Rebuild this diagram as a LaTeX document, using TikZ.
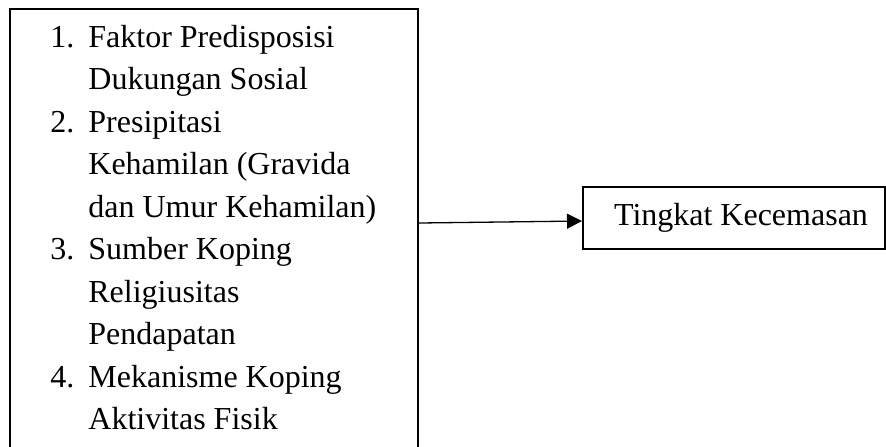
\documentclass[tikz,border=0pt]{standalone}
\usepackage{fontspec}
\setmainfont{Liberation Serif}
\usetikzlibrary{positioning,arrows.meta}

\begin{document}
\begin{tikzpicture}[x=0.5pt,y=0.5pt,font=\fontsize{16}{21}\selectfont,
    box/.style={draw,line width=1pt,inner sep=0pt},
    line/.style={anchor=base west,inner sep=0pt},
    arr/.style={-{Triangle[length=7.5pt,width=7.5pt]},line width=0.65pt}]
  \useasboundingbox (0,0) rectangle (886,-446);
  \clip (0,0) rectangle (886,-446);
  % left box, runs past the lower edge
  \node[box,minimum width=204pt,minimum height=227pt] (list) at (214,-236) {};
  \foreach \n/\num/\txt in {0/1./Faktor Predisposisi, 1//Dukungan Sosial,
      2/2./Presipitasi, 3//Kehamilan (Gravida, 4//dan Umur Kehamilan),
      5/3./Sumber Koping, 6//Religiusitas, 7//Pendapatan,
      8/4./Mekanisme Koping, 9//Aktivitas Fisik}{
    \node[line] (num\n) at (50,-47-42.5*\n) {\num};
    \node[line] (item\n) at (88,-47-42.5*\n) {\txt};}
  % right box
  \node[box,minimum width=151pt,minimum height=31pt,anchor=west] (level) at (582,-218) {};
  \node (leveltext) at (741,-218) {Tingkat Kecemasan};
  \coordinate (src) at ([yshift=6.5pt]list.east);
  \draw[arr] (src) -- ([yshift=-1.5pt]level.west);
\end{tikzpicture}
\end{document}
